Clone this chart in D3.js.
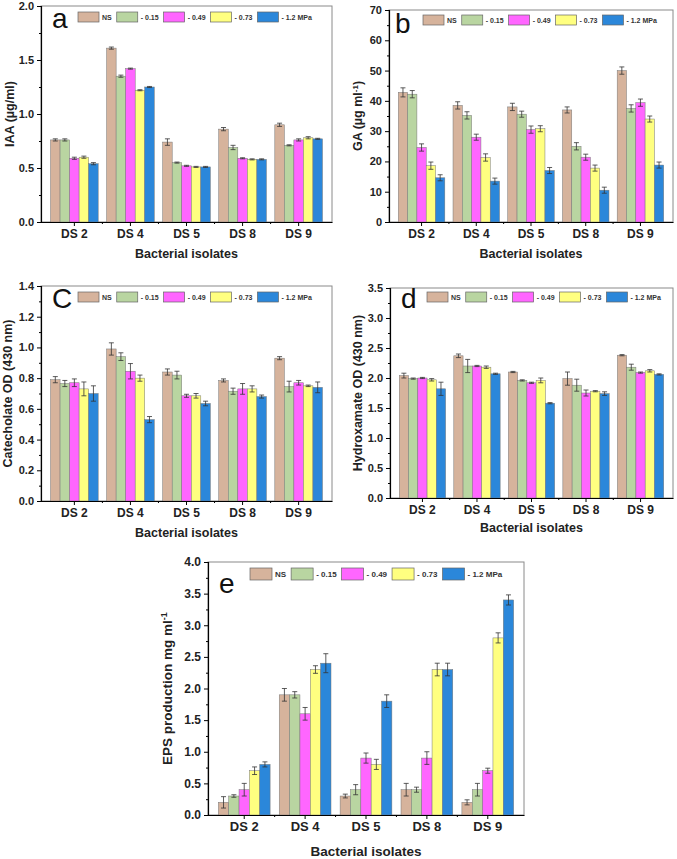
<!DOCTYPE html>
<html>
<head>
<meta charset="utf-8">
<script src="https://cdn.jsdelivr.net/npm/d3@7"></script>
<style>
  body { margin: 0; background: #fff; }
  svg { display: block; font-family: "Liberation Sans", Arial, sans-serif; }
</style>
</head>
<body>
<svg id="chart" width="677" height="859"></svg>
<script>
var isolates = ["DS 2", "DS 4", "DS 5", "DS 8", "DS 9"];
var treatments = ["NS", "- 0.15", "- 0.49", "- 0.73", "- 1.2 MPa"];
var colors = ["#d6b39c", "#b9d5a1", "#ff66ff", "#ffff80", "#2b87da"];

// values per isolate, in treatment order
var iaaMean = [[0.76, 0.76, 0.59, 0.60, 0.54], [1.61, 1.35, 1.42, 1.22, 1.25], [0.74, 0.55, 0.52, 0.51, 0.51], [0.86, 0.69, 0.59, 0.58, 0.58], [0.90, 0.71, 0.76, 0.78, 0.77]];
var iaaErr = [[0.01, 0.01, 0.01, 0.01, 0.01], [0.01, 0.01, 0.005, 0.005, 0.005], [0.03, 0.005, 0.005, 0.005, 0.005], [0.015, 0.02, 0.005, 0.005, 0.005], [0.015, 0.005, 0.01, 0.01, 0.005]];

var gaMean = [[42.8, 42.2, 24.6, 18.6, 14.6], [38.5, 35.2, 28.0, 21.3, 13.5], [38.0, 35.6, 30.5, 30.8, 17.0], [37.0, 25.0, 21.4, 17.8, 10.5], [50.0, 37.5, 39.4, 34.0, 18.8]];
var gaErr = [[1.5, 1.2, 1.2, 1.2, 1.0], [1.2, 1.2, 1.0, 1.2, 1.0], [1.2, 1.0, 1.2, 1.0, 1.0], [1.0, 1.2, 1.0, 1.0, 1.0], [1.2, 1.2, 1.2, 1.0, 1.0]];

var catMean = [[0.79, 0.765, 0.77, 0.73, 0.70], [0.99, 0.94, 0.845, 0.80, 0.53], [0.84, 0.82, 0.685, 0.685, 0.635], [0.785, 0.715, 0.73, 0.73, 0.68], [0.93, 0.745, 0.77, 0.75, 0.74]];
var catErr = [[0.02, 0.02, 0.025, 0.045, 0.05], [0.04, 0.025, 0.05, 0.02, 0.02], [0.02, 0.025, 0.01, 0.015, 0.015], [0.01, 0.02, 0.035, 0.02, 0.01], [0.01, 0.035, 0.015, 0.005, 0.035]];

var hydMean = [[2.04, 1.99, 2.00, 1.97, 1.82], [2.37, 2.20, 2.20, 2.18, 2.07], [2.10, 1.96, 1.92, 1.96, 1.58], [1.99, 1.88, 1.75, 1.78, 1.74], [2.38, 2.18, 2.09, 2.12, 2.06]];
var hydErr = [[0.04, 0.01, 0.01, 0.02, 0.11], [0.03, 0.11, 0.01, 0.02, 0.01], [0.01, 0.01, 0.01, 0.04, 0.01], [0.11, 0.10, 0.05, 0.01, 0.03], [0.01, 0.05, 0.01, 0.02, 0.01]];

var epsMean = [[0.2, 0.3, 0.4, 0.7, 0.8], [1.9, 1.9, 1.6, 2.3, 2.4], [0.3, 0.4, 0.9, 0.8, 1.8], [0.4, 0.4, 0.9, 2.3, 2.3], [0.2, 0.4, 0.7, 2.8, 3.4]];
var epsErr = [[0.09, 0.02, 0.1, 0.06, 0.04], [0.1, 0.05, 0.1, 0.06, 0.15], [0.03, 0.08, 0.08, 0.08, 0.1], [0.1, 0.04, 0.1, 0.1, 0.1], [0.04, 0.1, 0.04, 0.08, 0.08]];

var svg = d3.select("#chart");

function panel(opt) {
  var x0 = d3.scaleBand().domain(isolates).range([opt.left, opt.right]).paddingInner(0.15).paddingOuter(0.17);
  var x1 = d3.scaleBand().domain(treatments).range([0, x0.bandwidth()]);
  var y = d3.scaleLinear().domain([0, opt.max]).range([opt.bottom, opt.top]);
  var fs = opt.fs || 11;
  var g = svg.append("g");

  // frame
  g.append("rect")
    .attr("x", opt.left).attr("y", opt.top)
    .attr("width", opt.right - opt.left).attr("height", opt.bottom - opt.top)
    .attr("fill", "none").attr("stroke", "#8a8a8a").attr("stroke-width", 1);

  // bars
  var groups = g.selectAll(".grp")
    .data(opt.mean)
    .enter().append("g")
    .attr("transform", function(d, i) { return "translate(" + x0(isolates[i]) + ",0)"; });

  groups.each(function(vals, i) {
    var gg = d3.select(this);
    gg.selectAll("rect")
      .data(vals)
      .enter().append("rect")
      .attr("x", function(d, j) { return x1(treatments[j]); })
      .attr("y", function(d) { return y(d); })
      .attr("width", x1.bandwidth())
      .attr("height", function(d) { return opt.bottom - y(d); })
      .attr("fill", function(d, j) { return colors[j]; })
      .attr("stroke", "#777").attr("stroke-width", 0.5);

    var errs = opt.err[i];
    var eb = gg.selectAll(".eb")
      .data(vals)
      .enter().append("g")
      .attr("stroke", "#333").attr("stroke-width", 0.8);
    eb.append("line")
      .attr("x1", function(d, j) { return x1(treatments[j]) + x1.bandwidth() / 2; })
      .attr("x2", function(d, j) { return x1(treatments[j]) + x1.bandwidth() / 2; })
      .attr("y1", function(d, j) { return y(d - errs[j]); })
      .attr("y2", function(d, j) { return y(d + errs[j]); });
    [1, -1].forEach(function(s) {
      eb.append("line")
        .attr("x1", function(d, j) { return x1(treatments[j]) + x1.bandwidth() / 2 - 2.5; })
        .attr("x2", function(d, j) { return x1(treatments[j]) + x1.bandwidth() / 2 + 2.5; })
        .attr("y1", function(d, j) { return y(d + s * errs[j]); })
        .attr("y2", function(d, j) { return y(d + s * errs[j]); });
    });
  });

  // y axis
  var yAx = g.append("g").attr("transform", "translate(" + opt.left + ",0)")
    .call(d3.axisLeft(y).tickValues(d3.range(0, opt.max + 1e-9, opt.step))
      .tickFormat(opt.fmt).tickSize(4).tickPadding(3));
  yAx.select(".domain").attr("stroke", "#000").attr("stroke-width", 1.2);
  yAx.selectAll(".tick line").attr("stroke", "#000");
  yAx.selectAll("text").attr("font-size", fs).attr("font-weight", "bold").attr("fill", "#222");
  g.append("g").attr("transform", "translate(" + opt.left + ",0)")
    .call(d3.axisLeft(y).tickValues(d3.range(opt.step / 2, opt.max, opt.step)).tickFormat("").tickSize(2))
    .call(function(s) { s.select(".domain").remove(); });

  // x axis
  var xAx = g.append("g").attr("transform", "translate(0," + opt.bottom + ")")
    .call(d3.axisBottom(x0).tickSize(4).tickPadding(3).tickSizeOuter(0));
  xAx.select(".domain").attr("stroke", "#000").attr("stroke-width", 1.2);
  xAx.selectAll("text").attr("font-size", fs + 1).attr("font-weight", "bold").attr("fill", "#222");
  var mids = isolates.slice(1).map(function(d) { return x0(d) - x0.step() * x0.paddingInner() / 2; });
  g.selectAll(".minx").data(mids).enter().append("line")
    .attr("x1", function(d) { return d; }).attr("x2", function(d) { return d; })
    .attr("y1", opt.bottom).attr("y2", opt.bottom + 2)
    .attr("stroke", "#000");

  // titles
  g.append("text")
    .attr("x", (opt.left + opt.right) / 2).attr("y", opt.xTitleY)
    .attr("text-anchor", "middle").attr("font-size", fs + 1.5).attr("font-weight", "bold").attr("fill", "#222")
    .text("Bacterial isolates");
  var yt = g.append("text")
    .attr("transform", "translate(" + opt.yTitleX + "," + (opt.top + opt.bottom) / 2 + ") rotate(-90)")
    .attr("text-anchor", "middle").attr("font-size", fs + 1.5).attr("font-weight", "bold").attr("fill", "#222");
  yt.append("tspan").text(opt.yTitle);
  if (opt.sup) {
    yt.append("tspan").attr("baseline-shift", "super").attr("font-size", fs - 3).text(opt.sup);
    if (opt.yTail) yt.append("tspan").text(opt.yTail);
  }

  // panel letter
  g.append("text").attr("x", opt.letterX).attr("y", opt.letterY)
    .attr("font-size", 28).attr("fill", "#111").text(opt.letter);

  // legend
  var lx = opt.left + opt.legDx;
  var ly = opt.top + opt.legDy;
  var sw = opt.legW || 21, sh = opt.legH || 10;
  treatments.forEach(function(t, j) {
    g.append("rect").attr("x", lx).attr("y", ly).attr("width", sw).attr("height", sh)
      .attr("fill", colors[j]).attr("stroke", "#666").attr("stroke-width", 0.7);
    var tx = g.append("text").attr("x", lx + sw + 3).attr("y", ly + sh / 2 + 2.5)
      .attr("font-size", opt.legFs || 7).attr("font-weight", "bold").attr("fill", "#333").text(t);
    lx += sw + 3 + tx.node().getComputedTextLength() + 5;
  });
}

panel({ left: 41, right: 332, top: 6, bottom: 222, max: 2.0, step: 0.5, fmt: d3.format(".1f"),
  mean: iaaMean, err: iaaErr, yTitle: "IAA (µg/ml)", yTitleX: 14, xTitleY: 258,
  letter: "a", letterX: 52, letterY: 28, legDx: 37, legDy: 6 });

panel({ left: 389, right: 673, top: 10, bottom: 222, max: 70, step: 10, fmt: d3.format("d"),
  mean: gaMean, err: gaErr, yTitle: "GA (µg ml", sup: "-1", yTail: ")", yTitleX: 362, xTitleY: 258,
  letter: "b", letterX: 395, letterY: 33, legDx: 34, legDy: 5 });

panel({ left: 41, right: 332, top: 286, bottom: 501, max: 1.4, step: 0.2, fmt: d3.format(".1f"),
  mean: catMean, err: catErr, yTitle: "Catecholate OD (430 nm)", yTitleX: 12, xTitleY: 537,
  letter: "C", letterX: 52, letterY: 308, legDx: 37, legDy: 6 });

panel({ left: 390, right: 673, top: 288, bottom: 498, max: 3.5, step: 0.5, fmt: d3.format(".1f"),
  mean: hydMean, err: hydErr, yTitle: "Hydroxamate OD (430 nm)", yTitleX: 362, xTitleY: 532,
  letter: "d", letterX: 401, letterY: 308, legDx: 37, legDy: 4 });

panel({ left: 208, right: 524, top: 562, bottom: 815, max: 4.0, step: 0.5, fmt: d3.format(".1f"), fs: 12,
  mean: epsMean, err: epsErr, yTitle: "EPS production mg ml", sup: "-1", yTitleX: 172, xTitleY: 856,
  letter: "e", letterX: 219, letterY: 593, legDx: 42, legDy: 6, legW: 22, legH: 12, legFs: 8 });
</script>
</body>
</html>
